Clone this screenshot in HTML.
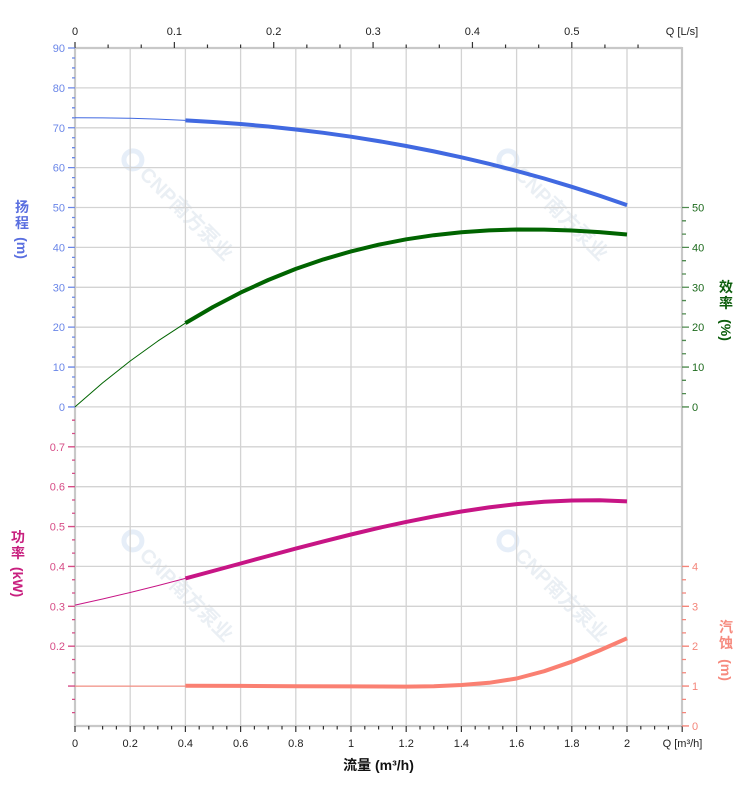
<!DOCTYPE html>
<html><head><meta charset="utf-8"><style>
html,body{margin:0;padding:0;background:#fff;}
svg{display:block;}
text{font-family:"Liberation Sans","Noto Sans CJK SC",sans-serif;}
</style></head><body>
<svg width="752" height="797" viewBox="0 0 752 797" xmlns="http://www.w3.org/2000/svg">
<rect width="752" height="797" fill="#fff"/>

<!-- watermarks -->
<g font-weight="bold" font-size="20">
  <g transform="translate(181,208) rotate(45)">
    <circle cx="-68" cy="0" r="9" fill="none" stroke="#e6eef8" stroke-width="5"/>
    <text x="8" y="7" text-anchor="middle" fill="#eaeff4">CNP南方泵业</text>
  </g>
  <g transform="translate(556,208) rotate(45)">
    <circle cx="-68" cy="0" r="9" fill="none" stroke="#e6eef8" stroke-width="5"/>
    <text x="8" y="7" text-anchor="middle" fill="#eaeff4">CNP南方泵业</text>
  </g>
  <g transform="translate(181,589) rotate(45)">
    <circle cx="-68" cy="0" r="9" fill="none" stroke="#e6eef8" stroke-width="5"/>
    <text x="8" y="7" text-anchor="middle" fill="#eaeff4">CNP南方泵业</text>
  </g>
  <g transform="translate(556,589) rotate(45)">
    <circle cx="-68" cy="0" r="9" fill="none" stroke="#e6eef8" stroke-width="5"/>
    <text x="8" y="7" text-anchor="middle" fill="#eaeff4">CNP南方泵业</text>
  </g>
</g>

<!-- grid -->
<g stroke="#d3d3d3" stroke-width="1.3" fill="none">
  <path d="M130.2 48V726M185.4 48V726M240.6 48V726M295.8 48V726M351 48V726M406.2 48V726M461.4 48V726M516.6 48V726M571.8 48V726M627 48V726"/>
  <path d="M75 87.9H682M75 127.8H682M75 167.6H682M75 207.5H682M75 247.4H682M75 287.3H682M75 327.2H682M75 367H682M75 406.9H682M75 446.8H682M75 486.7H682M75 526.6H682M75 566.4H682M75 606.3H682M75 646.2H682M75 686.1H682"/>
</g>
<!-- frame -->
<g stroke="#c8c8c8" stroke-width="2.2" fill="none">
  <path d="M75 48H682M75 726H682M75 47V727M682 47V727"/>
</g>

<!-- top ticks -->
<g stroke="#333" stroke-width="1.2">
  <path d="M75 42V48M174.36 42V48M273.72 42V48M373.08 42V48M472.44 42V48M571.8 42V48"/>
  <path d="M108.12 44.5V48M141.24 44.5V48M207.48 44.5V48M240.6 44.5V48M306.84 44.5V48M339.96 44.5V48M406.2 44.5V48M439.32 44.5V48M505.56 44.5V48M538.68 44.5V48M604.92 44.5V48M638.04 44.5V48"/>
</g>
<!-- bottom ticks -->
<g stroke="#333" stroke-width="1.2">
  <path d="M75 726V732M130.2 726V732M185.4 726V732M240.6 726V732M295.8 726V732M351 726V732M406.2 726V732M461.4 726V732M516.6 726V732M571.8 726V732M627 726V732M682.2 726V732"/>
  <path d="M88.8 726V729.5M102.6 726V729.5M116.4 726V729.5M144 726V729.5M157.8 726V729.5M171.6 726V729.5M199.2 726V729.5M213 726V729.5M226.8 726V729.5M254.4 726V729.5M268.2 726V729.5M282 726V729.5M309.6 726V729.5M323.4 726V729.5M337.2 726V729.5M364.8 726V729.5M378.6 726V729.5M392.4 726V729.5M420 726V729.5M433.8 726V729.5M447.6 726V729.5M475.2 726V729.5M489 726V729.5M502.8 726V729.5M530.4 726V729.5M544.2 726V729.5M558 726V729.5M585.6 726V729.5M599.4 726V729.5M613.2 726V729.5M640.8 726V729.5M654.6 726V729.5M668.4 726V729.5"/>
</g>

<!-- left head ticks -->
<g stroke="#6a86e8" stroke-width="1.3">
  <path d="M68 48H75M68 87.88H75M68 127.76H75M68 167.64H75M68 207.52H75M68 247.4H75M68 287.28H75M68 327.16H75M68 367.04H75M68 406.92H75"/>
  <path d="M72 57.97H75M72 67.94H75M72 77.91H75M72 97.85H75M72 107.82H75M72 117.79H75M72 137.73H75M72 147.7H75M72 157.67H75M72 177.61H75M72 187.58H75M72 197.55H75M72 217.49H75M72 227.46H75M72 237.43H75M72 257.37H75M72 267.34H75M72 277.31H75M72 297.25H75M72 307.22H75M72 317.19H75M72 337.13H75M72 347.1H75M72 357.07H75M72 377.01H75M72 386.98H75M72 396.95H75"/>
</g>
<!-- left power ticks -->
<g stroke="#d64c86" stroke-width="1.3">
  <path d="M68 446.8H75M68 486.68H75M68 526.56H75M68 566.44H75M68 606.32H75M68 646.2H75M68 686.08H75"/>
  <path d="M72 420.21H75M72 433.5H75M72 460.09H75M72 473.38H75M72 499.97H75M72 513.26H75M72 539.85H75M72 553.14H75M72 579.73H75M72 593.02H75M72 619.61H75M72 632.9H75M72 659.49H75M72 672.78H75M72 699.37H75M72 712.66H75"/>
</g>
<!-- right efficiency ticks -->
<g stroke="#4f8a4f" stroke-width="1.3">
  <path d="M682 207.52H689M682 247.4H689M682 287.28H689M682 327.16H689M682 367.04H689M682 406.92H689"/>
  <path d="M682 220.81H686M682 234.1H686M682 260.69H686M682 273.98H686M682 300.57H686M682 313.86H686M682 340.45H686M682 353.74H686M682 380.33H686M682 393.62H686"/>
</g>
<!-- right npsh ticks -->
<g stroke="#f4857a" stroke-width="1.3">
  <path d="M682 566.44H689M682 606.32H689M682 646.2H689M682 686.08H689M682 725.96H689"/>
  <path d="M682 579.73H686M682 593.02H686M682 619.61H686M682 632.9H686M682 659.49H686M682 672.78H686M682 699.37H686M682 712.66H686"/>
</g>

<!-- tick labels -->
<g font-size="11" fill="#222" text-anchor="middle">
  <text x="75" y="35">0</text>
  <text x="174.4" y="35">0.1</text>
  <text x="273.7" y="35">0.2</text>
  <text x="373.1" y="35">0.3</text>
  <text x="472.4" y="35">0.4</text>
  <text x="571.8" y="35">0.5</text>
  <text x="682" y="35">Q [L/s]</text>
  <text x="75" y="747">0</text>
  <text x="130.2" y="747">0.2</text>
  <text x="185.4" y="747">0.4</text>
  <text x="240.6" y="747">0.6</text>
  <text x="295.8" y="747">0.8</text>
  <text x="351" y="747">1</text>
  <text x="406.2" y="747">1.2</text>
  <text x="461.4" y="747">1.4</text>
  <text x="516.6" y="747">1.6</text>
  <text x="571.8" y="747">1.8</text>
  <text x="627" y="747">2</text>
  <text x="682.5" y="747">Q [m³/h]</text>
</g>
<g font-size="11" fill="#6a86e8" text-anchor="end">
  <text x="65" y="52">90</text>
  <text x="65" y="91.9">80</text>
  <text x="65" y="131.8">70</text>
  <text x="65" y="171.6">60</text>
  <text x="65" y="211.5">50</text>
  <text x="65" y="251.4">40</text>
  <text x="65" y="291.3">30</text>
  <text x="65" y="331.2">20</text>
  <text x="65" y="371">10</text>
  <text x="65" y="410.9">0</text>
</g>
<g font-size="11" fill="#d64c86" text-anchor="end">
  <text x="65" y="450.8">0.7</text>
  <text x="65" y="490.7">0.6</text>
  <text x="65" y="530.6">0.5</text>
  <text x="65" y="570.4">0.4</text>
  <text x="65" y="610.3">0.3</text>
  <text x="65" y="650.2">0.2</text>
</g>
<g font-size="11" fill="#1e6b1e">
  <text x="692" y="211.5">50</text>
  <text x="692" y="251.4">40</text>
  <text x="692" y="291.3">30</text>
  <text x="692" y="331.2">20</text>
  <text x="692" y="371">10</text>
  <text x="692" y="410.9">0</text>
</g>
<g font-size="11" fill="#f4857a">
  <text x="692" y="570.4">4</text>
  <text x="692" y="610.3">3</text>
  <text x="692" y="650.2">2</text>
  <text x="692" y="690.1">1</text>
  <text x="692" y="730">0</text>
</g>

<!-- side titles -->
<g font-size="14" font-weight="bold" text-anchor="middle">
  <g fill="#5a6fe0">
    <text x="22" y="212">扬</text>
    <text x="22" y="228">程</text>
    <text transform="translate(17,248) rotate(90)" text-anchor="middle">(m)</text>
  </g>
  <g fill="#0d5e0d">
    <text x="726" y="292">效</text>
    <text x="726" y="308">率</text>
    <text transform="translate(721,330) rotate(90)" text-anchor="middle">(%)</text>
  </g>
  <g fill="#c8207f">
    <text x="18" y="542">功</text>
    <text x="18" y="558">率</text>
    <text transform="translate(13,582) rotate(90)" text-anchor="middle">(kW)</text>
  </g>
  <g fill="#f68a7e">
    <text x="726" y="632">汽</text>
    <text x="726" y="648">蚀</text>
    <text transform="translate(721,670) rotate(90)" text-anchor="middle">(m)</text>
  </g>
</g>
<text x="378.5" y="770" font-size="14" font-weight="bold" fill="#111" text-anchor="middle">流量 (m³/h)</text>

<!-- curves -->
<g fill="none" stroke-linejoin="round" stroke-linecap="butt">
  <!-- head -->
  <polyline stroke="#4169E1" stroke-width="1" points="75,117.8 102.6,117.9 130.2,118.3 157.8,119.1 185.4,120.4"/>
  <polyline stroke="#4169E1" stroke-width="4" points="185.4,120.4 213,122 240.6,124 268.2,126.5 295.8,129.5 323.4,132.8 351,136.7 378.6,141.1 406.2,146 433.8,151.4 461.4,157.3 489,163.8 516.6,170.9 544.2,178.5 571.8,186.8 599.4,195.6 627,205.1"/>
  <!-- efficiency -->
  <polyline stroke="#006400" stroke-width="1" points="75,406.9 102.6,382.9 130.2,361 157.8,341.1 185.4,323.1"/>
  <polyline stroke="#006400" stroke-width="4" points="185.4,323.1 213,307 240.6,292.6 268.2,280 295.8,268.9 323.4,259.4 351,251.4 378.6,244.7 406.2,239.3 433.8,235.2 461.4,232.2 489,230.4 516.6,229.5 544.2,229.6 571.8,230.5 599.4,232.1 627,234.5"/>
  <!-- power -->
  <polyline stroke="#C71585" stroke-width="1" points="75,605.1 102.6,599 130.2,592.5 157.8,585.6 185.4,578.4"/>
  <polyline stroke="#C71585" stroke-width="4" points="185.4,578.4 213,571 240.6,563.5 268.2,556 295.8,548.6 323.4,541.4 351,534.5 378.6,527.9 406.2,521.9 433.8,516.4 461.4,511.5 489,507.4 516.6,504.1 544.2,501.8 571.8,500.5 599.4,500.3 627,501.4"/>
  <!-- npsh -->
  <polyline stroke="#FA8072" stroke-width="1" points="75,686.1 185.4,686.1"/>
  <polyline stroke="#FA8072" stroke-width="4" points="185.4,685.8 240.6,685.9 295.8,686.2 351,686.4 406.2,686.6 433.8,686.3 461.4,685 489,682.8 516.6,678.5 544.2,671.2 571.8,661.7 599.4,650.5 627,638.3"/>
</g>
</svg>
</body></html>
